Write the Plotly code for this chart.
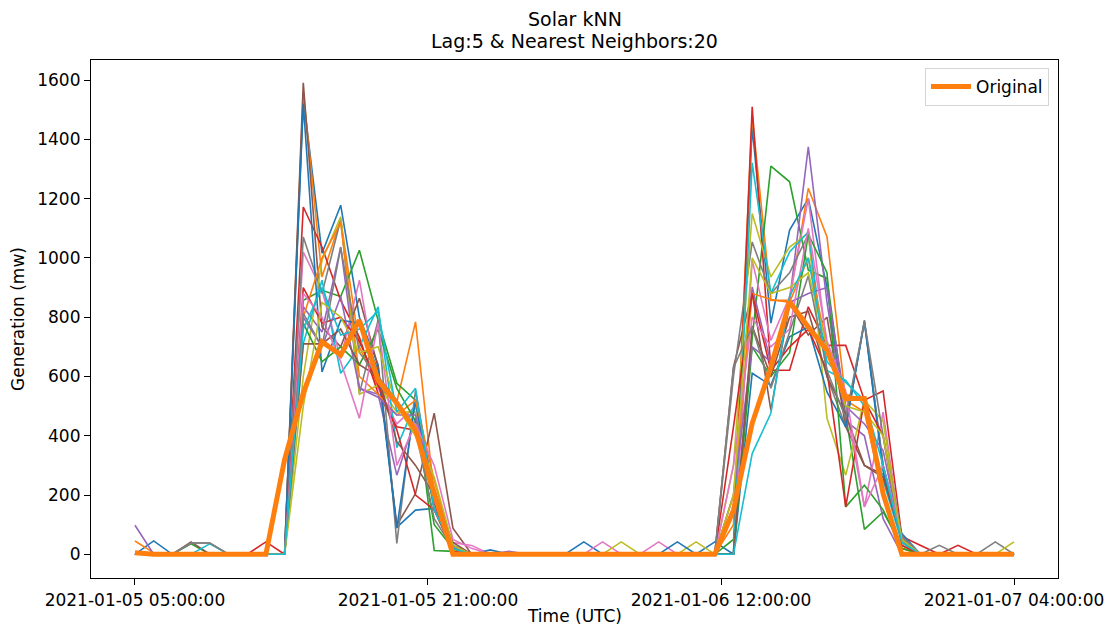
import plotly.graph_objects as go

# ---- data -------------------------------------------------------------
hours = list(range(48))  # hourly index, 2021-01-05 05:00 .. 2021-01-07 04:00
tick_pos = [0, 47 / 3, 94 / 3, 47]
tick_labels = ["2021-01-05 05:00:00", "2021-01-05 21:00:00",
               "2021-01-06 12:00:00", "2021-01-07 04:00:00"]
y_ticks = [0, 200, 400, 600, 800, 1000, 1200, 1400, 1600]

original = [5, 0, 0, 0, 0, 0, 0, 0,
            320, 543, 717, 672, 790, 587, 510, 419, 206, 0,
            0, 0, 0, 0, 0, 0, 0, 0, 0, 0, 0, 0, 0,
            0, 149, 442, 632, 852, 767, 689, 526, 526, 205, 0,
            0, 0, 0, 0, 0, 0]

n00 = [0, 45, 0, 0, 0, 0, 0, 0, 0, 1540, 1016, 1178, 800, 640, 91, 149, 155, 20,
       0, 0, 0, 0, 0, 0, 42, 0, 0, 0, 0, 0, 0,
       42, 0, 1442, 780, 1094, 1200, 900, 430, 784, 300, 60, 0, 0, 0, 0, 0, 0]
n01 = [45, 5, 0, 0, 0, 0, 0, 0, 0, 1560, 936, 1130, 700, 560, 514, 784, 200, 20,
       0, 0, 0, 0, 0, 0, 0, 0, 0, 0, 0, 0, 0,
       0, 100, 1480, 857, 857, 1235, 1071, 520, 480, 200, 20, 0, 0, 0, 0, 0, 0]
n02 = [0, 0, 0, 35, 0, 0, 0, 0, 0, 857, 891, 870, 1026, 790, 577, 520, 13, 10,
       0, 0, 0, 0, 0, 0, 0, 0, 0, 0, 0, 0, 0,
       0, 50, 729, 1310, 1257, 959, 931, 470, 84, 143, 30, 0, 0, 0, 0, 0, 0]
n03 = [0, 0, 0, 0, 0, 0, 0, 42, 0, 1172, 1037, 857, 732, 543, 430, 419, 172, 15,
       0, 0, 0, 0, 0, 0, 0, 0, 0, 0, 0, 0, 0,
       0, 0, 1510, 621, 621, 835, 705, 705, 520, 551, 60, 30, 0, 30, 0, 0, 0]
n04 = [98, 0, 0, 0, 0, 0, 0, 0, 0, 835, 750, 1037, 560, 540, 267, 460, 180, 20,
       0, 0, 10, 0, 0, 0, 0, 0, 0, 0, 0, 0, 0,
       0, 150, 902, 645, 857, 1375, 850, 450, 400, 120, 0, 0, 0, 0, 0, 0, 0]
n05 = [0, 0, 0, 42, 0, 0, 0, 0, 0, 1591, 767, 700, 864, 632, 98, 205, 476, 88,
       0, 0, 0, 0, 0, 0, 0, 0, 0, 0, 0, 0, 0,
       0, 632, 882, 486, 846, 740, 800, 430, 300, 270, 50, 0, 0, 0, 0, 0, 0]
n06 = [0, 0, 0, 0, 0, 0, 0, 0, 0, 1020, 890, 661, 925, 560, 440, 500, 200, 40,
       30, 0, 0, 0, 0, 0, 0, 42, 0, 0, 42, 0, 0,
       0, 0, 992, 722, 870, 1200, 700, 500, 160, 480, 40, 0, 0, 0, 0, 0, 0]
n07 = [0, 0, 0, 38, 38, 0, 0, 0, 0, 1071, 880, 1130, 543, 790, 37, 553, 200, 30,
       0, 0, 0, 0, 0, 0, 0, 0, 0, 0, 0, 0, 0,
       0, 600, 1054, 880, 950, 1080, 600, 430, 790, 300, 40, 0, 30, 0, 0, 42, 0]
n08 = [0, 0, 0, 0, 0, 0, 0, 0, 0, 600, 992, 1139, 540, 570, 480, 480, 150, 15,
       0, 0, 0, 0, 0, 0, 0, 0, 42, 0, 0, 0, 42,
       0, 300, 1150, 936, 1037, 1084, 459, 267, 520, 450, 40, 0, 0, 0, 0, 0, 42]
n09 = [0, 0, 0, 0, 35, 0, 0, 0, 0, 712, 925, 611, 700, 835, 360, 510, 200, 30,
       0, 0, 0, 0, 0, 0, 0, 0, 0, 0, 0, 0, 0,
       0, 0, 1321, 880, 1020, 1088, 620, 587, 500, 250, 40, 0, 0, 0, 0, 0, 0]
n10 = [0, 0, 0, 0, 0, 0, 0, 0, 0, 1520, 615, 790, 780, 620, 88, 520, 150, 30,
       0, 15, 0, 0, 0, 0, 0, 0, 0, 0, 0, 42, 0,
       0, 0, 611, 570, 734, 767, 548, 430, 785, 280, 70, 0, 0, 0, 0, 0, 0]
n11 = [0, 0, 0, 0, 0, 0, 0, 0, 0, 800, 1000, 1120, 600, 540, 470, 520, 250, 20,
       0, 0, 0, 0, 0, 0, 0, 0, 0, 0, 0, 0, 0,
       0, 200, 880, 860, 850, 1000, 700, 540, 520, 200, 20, 0, 0, 0, 0, 0, 0]
n12 = [0, 0, 0, 0, 0, 0, 0, 0, 0, 780, 650, 700, 640, 760, 560, 450, 100, 20,
       0, 0, 0, 0, 0, 0, 0, 0, 0, 0, 0, 0, 0,
       0, 0, 700, 600, 680, 1080, 950, 160, 233, 150, 20, 0, 0, 0, 0, 0, 0]
n13 = [0, 0, 0, 0, 0, 0, 0, 0, 0, 900, 780, 800, 720, 570, 420, 200, 150, 10,
       0, 0, 0, 0, 0, 0, 0, 0, 0, 0, 0, 0, 0,
       0, 430, 880, 620, 700, 760, 620, 160, 520, 400, 30, 0, 0, 0, 0, 0, 0]
n14 = [0, 0, 0, 0, 0, 0, 0, 0, 0, 800, 700, 870, 560, 530, 470, 470, 220, 25,
       0, 0, 0, 0, 0, 0, 0, 0, 0, 0, 0, 0, 0,
       0, 200, 700, 650, 850, 880, 900, 500, 440, 350, 50, 0, 0, 0, 0, 0, 0]
n15 = [0, 0, 0, 0, 0, 0, 0, 0, 0, 710, 710, 760, 640, 600, 380, 300, 200, 40,
       0, 0, 0, 0, 0, 0, 0, 0, 0, 0, 0, 0, 0,
       0, 0, 770, 600, 800, 820, 600, 470, 300, 260, 50, 0, 0, 0, 0, 0, 0]
n16 = [0, 0, 0, 0, 0, 0, 0, 0, 0, 880, 800, 650, 459, 780, 300, 440, 300, 50,
       20, 0, 0, 0, 0, 0, 0, 0, 0, 0, 0, 0, 0,
       0, 300, 800, 700, 760, 1100, 720, 550, 160, 300, 60, 0, 0, 0, 0, 0, 0]
n17 = [0, 0, 0, 38, 38, 0, 0, 0, 0, 813, 700, 1035, 680, 600, 520, 420, 120, 20,
       0, 0, 0, 0, 0, 0, 0, 0, 0, 0, 0, 0, 0,
       0, 630, 767, 560, 750, 940, 620, 460, 785, 400, 60, 0, 0, 0, 0, 0, 0]
n18 = [0, 0, 0, 0, 0, 0, 0, 0, 0, 500, 850, 800, 680, 700, 500, 400, 260, 30,
       0, 0, 0, 0, 0, 0, 0, 0, 0, 0, 0, 0, 0,
       0, 200, 1000, 880, 900, 950, 700, 500, 480, 400, 50, 0, 0, 0, 0, 0, 0]
n19 = [0, 0, 0, 0, 0, 0, 0, 0, 0, 760, 900, 740, 760, 820, 480, 560, 150, 20,
       0, 0, 0, 0, 0, 0, 0, 0, 0, 0, 0, 0, 0,
       0, 0, 340, 476, 870, 1000, 650, 580, 520, 300, 40, 0, 0, 0, 0, 0, 0]

neighbors = [n00, n01, n02, n03, n04, n05, n06, n07, n08, n09,
             n10, n11, n12, n13, n14, n15, n16, n17, n18, n19]

# ---- style ------------------------------------------------------------
tab10 = ['#1f77b4', '#ff7f0e', '#2ca02c', '#d62728', '#9467bd',
         '#8c564b', '#e377c2', '#7f7f7f', '#bcbd22', '#17becf']
FONT = "DejaVu Sans"
TICK_SIZE = 17

fig = go.Figure()
for k, series in enumerate(neighbors):
    fig.add_trace(go.Scatter(x=hours, y=series, mode="lines",
                             line=dict(color=tab10[k % 10], width=1.6),
                             showlegend=False, hoverinfo="skip"))
fig.add_trace(go.Scatter(x=hours, y=original, mode="lines", name="Original",
                         line=dict(color="#ff7f0e", width=5)))

axis_common = dict(showgrid=False, zeroline=False, showline=True, mirror=True,
                   linecolor="black", linewidth=1.2, ticks="outside",
                   ticklen=6, tickwidth=1.2, tickcolor="black", automargin=False,
                   tickfont=dict(family=FONT, size=TICK_SIZE, color="black"))

# plot area: x 91..1058, y 60..578 (pixels)
PH = 518.0
fig.update_layout(
    width=1109, height=629,
    margin=dict(l=91, r=51, t=60, b=51),
    paper_bgcolor="white", plot_bgcolor="white",
    font=dict(family=FONT, color="black"),
    xaxis=dict(range=[-2.35, 49.35], tickmode="array", tickvals=tick_pos,
               ticktext=tick_labels, **axis_common),
    yaxis=dict(range=[-80, 1668], tickmode="array", tickvals=y_ticks,
               **axis_common),
    legend=dict(x=0.9907, xanchor="right", y=0.9846, yanchor="top",
                bgcolor="white", bordercolor="#d5d5d5", borderwidth=1,
                font=dict(family=FONT, size=TICK_SIZE, color="black"),
                itemwidth=40),
    annotations=[
        dict(text="Solar kNN", xref="paper", yref="paper", x=0.5,
             y=(578 - 19) / PH, yanchor="middle", xanchor="center",
             showarrow=False, font=dict(family=FONT, size=19, color="black")),
        dict(text="Lag:5 & Nearest Neighbors:20", xref="paper", yref="paper",
             x=0.5, y=(578 - 41) / PH, yanchor="middle", xanchor="center",
             showarrow=False, font=dict(family=FONT, size=19, color="black")),
        dict(text="Time (UTC)", xref="paper", yref="paper", x=0.5,
             y=(578 - 628) / PH, yanchor="bottom", xanchor="center",
             showarrow=False, font=dict(family=FONT, size=TICK_SIZE, color="black")),
        dict(text="Generation (mw)", xref="paper", yref="paper",
             x=(18 - 91) / 967.0, y=0.5, xanchor="center", yanchor="middle",
             textangle=-90, showarrow=False,
             font=dict(family=FONT, size=TICK_SIZE, color="black")),
    ],
)

fig.write_html("out.html")
